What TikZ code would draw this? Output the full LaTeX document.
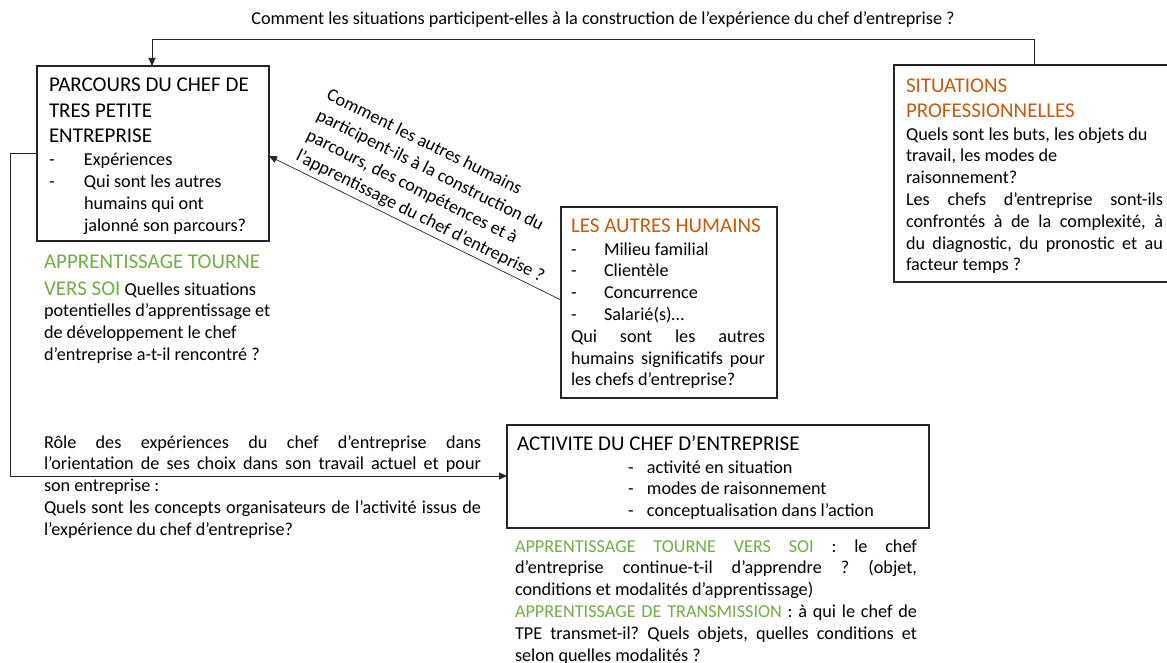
\documentclass[tikz,border=0pt]{standalone}
\usepackage{fontspec}
\setmainfont{Carlito}
\usetikzlibrary{arrows.meta,calc}
\definecolor{orng}{HTML}{C55A11}
\definecolor{grn}{HTML}{70AD47}
\definecolor{lin}{HTML}{262626}
\newcommand{\jline}[2]{\makebox[#1][s]{#2}}
\newcommand{\ttlf}{\fontsize{21}{25}\selectfont}
\frenchspacing
\begin{document}
\begin{tikzpicture}[x=1pt,y=-1pt,
  box/.style={draw=lin, line width=1.2pt, anchor=north west, inner sep=0pt, outer sep=0pt},
  txt/.style={font=\fontsize{18.2}{21.8}\selectfont, inner sep=0pt, outer sep=0pt, align=left, anchor=base west},
  conn/.style={draw=lin, line width=1pt, -{Triangle[length=8pt,width=7pt]}},
]
\useasboundingbox (0,0) rectangle (1167,663);

% boxes
\node[box, minimum width=232pt, minimum height=175pt] (parc) at (37,66) {};
\node[box, minimum width=290pt, minimum height=217pt] (sit) at (894,65) {};
\node[box, minimum width=216pt, minimum height=191pt] (autres) at (561,207) {};
\node[box, minimum width=422pt, minimum height=103pt] (act) at (507,425) {};

% top question
\node[txt, anchor=base] (topT) at (603,25) {Comment les situations participent-elles à la construction de l’expérience du chef d’entreprise ?};

% parcours text (anchor = baseline of last line)
\node[txt] (parcT) at (49,231) {{\ttlf PARCOURS DU CHEF DE}\\[4pt]{\ttlf TRES PETITE}\\[3pt]{\ttlf ENTREPRISE}\\[1.2pt]\makebox[35pt][l]{-}Expériences\\\makebox[35pt][l]{-}Qui sont les autres\\\hspace*{35pt}humains qui ont\\\hspace*{35pt}jalonné son parcours?};

% green block left
\node[txt] (apprL) at (44,360.4) {{\ttlf\color{grn}APPRENTISSAGE TOURNE}\\[5.2pt]{\ttlf\color{grn}VERS SOI} Quelles situations\\potentielles d’apprentissage et\\de développement le chef\\d’entreprise a-t-il rencontré ?};

% situations text
\node[txt] (sitT) at (906,270.8) {{\ttlf\color{orng}SITUATIONS}\\[3.2pt]{\ttlf\color{orng}PROFESSIONNELLES}\\[1.2pt]Quels sont les buts, les objets du\\travail, les modes de\\raisonnement?\\\jline{257pt}{Les chefs d’entreprise sont-ils}\\\jline{257pt}{confrontés à de la complexité, à}\\\jline{257pt}{du diagnostic, du pronostic et au}\\facteur temps ?};

% autres humains text
\node[txt] (autresT) at (571,385.8) {{\ttlf\color{orng}LES AUTRES HUMAINS}\\[1.2pt]\makebox[33pt][l]{-}Milieu familial\\\makebox[33pt][l]{-}Clientèle\\\makebox[33pt][l]{-}Concurrence\\\makebox[33pt][l]{-}Salarié(s)…\\\jline{194pt}{Qui sont les autres}\\\jline{194pt}{humains significatifs pour}\\les chefs d’entreprise?};

% activite text
\node[txt] (actT) at (517,450) {{\ttlf ACTIVITE DU CHEF D’ENTREPRISE}};
\node[txt] (actL) at (628,516.6) {\makebox[19pt][l]{-}activité en situation\\\makebox[19pt][l]{-}modes de raisonnement\\\makebox[19pt][l]{-}conceptualisation dans l’action};

% below activite
\node[txt] (actB) at (515,661) {\jline{402pt}{{\color{grn}APPRENTISSAGE TOURNE VERS SOI} : le chef}\\\jline{402pt}{d’entreprise continue-t-il d’apprendre ? (objet,}\\conditions et modalités d’apprentissage)\\\jline{402pt}{{\color{grn}APPRENTISSAGE DE TRANSMISSION} : à qui le chef de}\\\jline{402pt}{TPE transmet-il? Quels objets, quelles conditions et}\\selon quelles modalités ?};

% left role text
\node[txt] (roleT) at (44,535.2) {\jline{437pt}{Rôle des expériences du chef d’entreprise dans}\\\jline{437pt}{l’orientation de ses choix dans son travail actuel et pour}\\son entreprise :\\\jline{437pt}{Quels sont les concepts organisateurs de l’activité issus de}\\l’expérience du chef d’entreprise?};

% connectors
\coordinate (tR) at (1034,40);
\coordinate (tL) at (152,40);
\draw[conn] (sit.north -| tR) -- (tR) -- (tL) -- (parc.north -| tL);

\coordinate (lA) at (10,154);
\coordinate (lB) at (10,476);
\draw[conn] (parc.west |- lA) -- (lA) -- (lB) -- (act.west |- lB);

\coordinate (d1) at (561,300);
\coordinate (d2) at (269,156);
\draw[conn, line width=0.7pt] (autres.west |- d1) -- (parc.east |- d2);
\node[txt, font=\fontsize{18.2}{22.8}\selectfont, align=left, anchor=base west, rotate=-26.5] (diagT) at (295,160) {Comment les autres humains\\participent-ils à la construction du\\parcours, des compétences et à\\l’apprentissage du chef d’entreprise ?};
\end{tikzpicture}
\end{document}
